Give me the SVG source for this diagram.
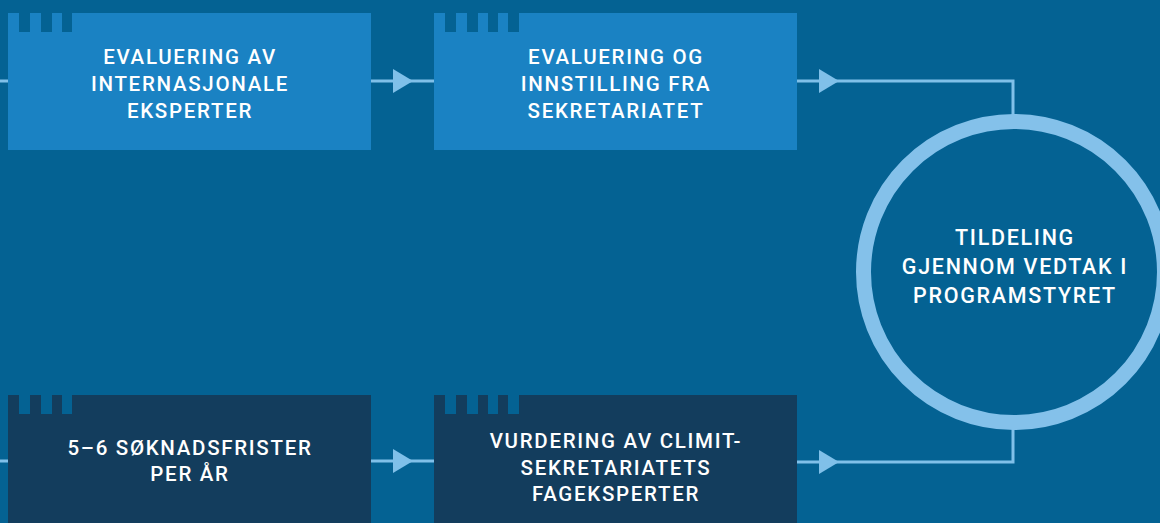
<svg xmlns="http://www.w3.org/2000/svg" width="1160" height="523" viewBox="0 0 1160 523">
<style>
.bg{fill:#046293}
.light{fill:#1a82c3}
.dark{fill:#133d5d}
.notch{fill:#046293}
.line{stroke:#80c0e9;stroke-width:3;fill:none}
.arrow{fill:#80c0e9}
.ring{fill:none;stroke:#84c1ea;stroke-width:15}
text{font-family:Roboto,"Liberation Sans",sans-serif;font-weight:500;font-size:20.5px;fill:#ffffff;text-anchor:middle;letter-spacing:1.7px}
.big{font-size:21.5px}
</style>
<rect class="bg" x="0" y="0" width="1160" height="523"/>
<g id="connectors">
<path class="line" d="M0 81H8"/>
<path class="line" d="M0 461H8"/>
<path class="line" d="M371 81H434"/>
<polygon class="arrow" points="393,69 413,81 393,93"/>
<path class="line" d="M371 461H434"/>
<polygon class="arrow" points="393,449 413,461 393,473"/>
<path class="line" d="M797 81H1013V116"/>
<polygon class="arrow" points="819,69 839,81 819,93"/>
<path class="line" d="M797 462H1013V428"/>
<polygon class="arrow" points="819,450 839,462 819,474"/>
</g>
<g id="node1">
<rect class="light" x="8" y="13" width="363" height="137"/>
<rect class="notch" x="19" y="13" width="11" height="19"/>
<rect class="notch" x="41" y="13" width="11" height="19"/>
<rect class="notch" x="62" y="13" width="10" height="19"/>
<text x="190" y="64">EVALUERING AV</text>
<text x="190" y="91">INTERNASJONALE</text>
<text x="190" y="118">EKSPERTER</text>
</g>
<g id="node2">
<rect class="light" x="434" y="13" width="363" height="137"/>
<rect class="notch" x="445" y="13" width="11" height="19"/>
<rect class="notch" x="467" y="13" width="11" height="19"/>
<rect class="notch" x="488" y="13" width="10" height="19"/>
<rect class="notch" x="508" y="13" width="11" height="19"/>
<text x="616" y="64">EVALUERING OG</text>
<text x="616" y="91">INNSTILLING FRA</text>
<text x="616" y="118">SEKRETARIATET</text>
</g>
<g id="node3">
<rect class="dark" x="8" y="395" width="363" height="128"/>
<rect class="notch" x="19" y="395" width="11" height="19"/>
<rect class="notch" x="41" y="395" width="11" height="19"/>
<rect class="notch" x="62" y="395" width="10" height="19"/>
<text x="190" y="455">5–6 SØKNADSFRISTER</text>
<text x="190" y="481">PER ÅR</text>
</g>
<g id="node4">
<rect class="dark" x="434" y="395" width="363" height="128"/>
<rect class="notch" x="445" y="395" width="11" height="19"/>
<rect class="notch" x="467" y="395" width="11" height="19"/>
<rect class="notch" x="488" y="395" width="10" height="19"/>
<rect class="notch" x="508" y="395" width="11" height="19"/>
<text x="616" y="448">VURDERING AV CLIMIT-</text>
<text x="616" y="475">SEKRETARIATETS</text>
<text x="616" y="501">FAGEKSPERTER</text>
</g>
<g id="node5">
<circle class="ring" cx="1014" cy="272" r="150.5"/>
<text class="big" x="1015" y="245">TILDELING</text>
<text class="big" x="1015" y="274">GJENNOM VEDTAK I</text>
<text class="big" x="1015" y="303">PROGRAMSTYRET</text>
</g>
</svg>
